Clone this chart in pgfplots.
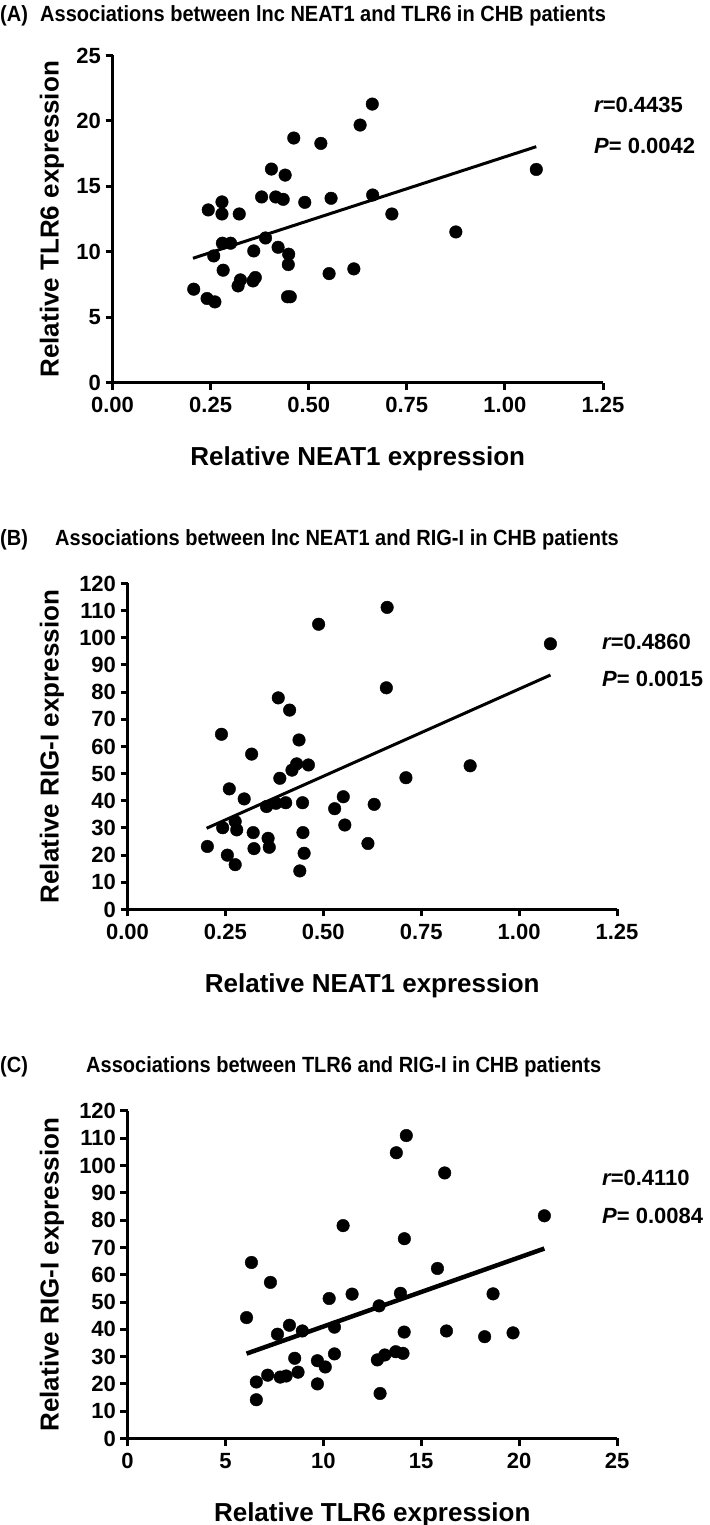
\documentclass[border=0pt]{standalone}
\usepackage{fontspec}
\setmainfont{Liberation Sans}
\usepackage{graphicx}
\usepackage{pgfplots}
\pgfplotsset{compat=1.18}
\newcommand\tickfont{\bfseries\fontsize{22}{22}\selectfont}
\newcommand\labfont{\bfseries\fontsize{26}{26}\selectfont}
\newcommand\titfont{\bfseries\fontsize{22}{22}\selectfont}
\newcommand\annfont{\bfseries\fontsize{22}{22}\selectfont}
\newcommand\tit[1]{\scalebox{0.91}[1]{#1}}
\pgfplotsset{
  gp/.style={
    scale only axis, anchor=south west, clip=false,
    axis lines=left, axis line style={-, line width=3pt},
    tick style={line width=3pt, black},
    major tick length=7pt, tick align=outside,
    ticklabel style={font=\tickfont},
    xticklabel style={yshift=-4pt},
    yticklabel style={xshift=-1pt},
  }
}
\begin{document}
\begin{tikzpicture}[x=1pt,y=1pt]
\path[use as bounding box, fill=white] (0,0) rectangle (709,1525);
% titles
\node[anchor=base west, inner sep=0pt, font=\titfont] at (0,1503) {\tit{(A)}};
\node[anchor=base west, inner sep=0pt, font=\titfont] at (40,1503) {\tit{Associations between lnc NEAT1 and TLR6 in CHB patients}};
\node[anchor=base west, inner sep=0pt, font=\titfont] at (0,979) {\tit{(B)}};
\node[anchor=base west, inner sep=0pt, font=\titfont] at (55,979) {\tit{Associations between lnc NEAT1 and RIG-I in CHB patients}};
\node[anchor=base west, inner sep=0pt, font=\titfont] at (0,452.3) {\tit{(C)}};
\node[anchor=base west, inner sep=0pt, font=\titfont] at (86,452.3) {\tit{Associations between TLR6 and RIG-I in CHB patients}};
% annotations
\node[anchor=west, inner sep=0pt, font=\annfont] at (594,1420) {\itshape r\upshape=0.4435};
\node[anchor=west, inner sep=0pt, font=\annfont] at (594,1379) {\itshape P\upshape= 0.0042};
\node[anchor=west, inner sep=0pt, font=\annfont] at (602,883) {\itshape r\upshape=0.4860};
\node[anchor=west, inner sep=0pt, font=\annfont] at (602,846) {\itshape P\upshape= 0.0015};
\node[anchor=west, inner sep=0pt, font=\annfont] at (602,347) {\itshape r\upshape=0.4110};
\node[anchor=west, inner sep=0pt, font=\annfont] at (602,309) {\itshape P\upshape= 0.0084};

% Panel A
\begin{axis}[gp, at={(112.5pt,1142pt)}, width=490.5pt, height=327.5pt,
  xmin=0, xmax=1.25, ymin=0, ymax=25,
  xtick={0,0.25,0.5,0.75,1,1.25}, xticklabels={0.00,0.25,0.50,0.75,1.00,1.25},
  ytick={0,5,10,15,20,25}, yticklabels={0,5,10,15,20,25}]
\addplot[only marks, mark=*, mark size=6.3pt, black] table {
0.207 7.16
0.241 6.45
0.244 13.21
0.258 9.70
0.261 6.19
0.279 13.82
0.279 12.90
0.280 10.67
0.282 8.61
0.301 10.67
0.320 7.41
0.323 12.90
0.326 7.87
0.358 7.79
0.360 10.08
0.364 8.05
0.380 14.20
0.390 11.07
0.405 16.33
0.416 14.20
0.422 10.36
0.435 14.02
0.440 15.87
0.446 6.58
0.448 9.04
0.449 9.83
0.453 6.58
0.462 18.70
0.490 13.79
0.531 18.29
0.552 8.35
0.557 14.10
0.615 8.71
0.631 19.69
0.662 21.29
0.663 14.35
0.712 12.90
0.875 11.53
1.080 16.30
};
\addplot[black, line width=3pt] coordinates {(0.205,9.52) (1.080,18.04)};
\node[font=\labfont] at ([yshift=-76pt]rel axis cs:0.5,0) {Relative NEAT1 expression};
\node[font=\labfont, rotate=90] at ([xshift=-60.5pt]rel axis cs:0,0.5) {Relative TLR6 expression};
\end{axis}

% Panel B
\begin{axis}[gp, at={(127.5pt,615.5pt)}, width=489.5pt, height=326pt,
  xmin=0, xmax=1.25, ymin=0, ymax=120,
  xtick={0,0.25,0.5,0.75,1,1.25}, xticklabels={0.00,0.25,0.50,0.75,1.00,1.25},
  ytick={0,10,...,120}, yticklabels={0,10,20,30,40,50,60,70,80,90,100,110,120}]
\addplot[only marks, mark=*, mark size=6.3pt, black] table {
0.204 23.2
0.240 64.5
0.243 30.1
0.255 20.0
0.260 44.4
0.275 32.4
0.275 16.5
0.279 29.3
0.298 40.7
0.317 57.2
0.321 28.3
0.323 22.4
0.355 37.9
0.359 26.2
0.362 22.9
0.379 39.1
0.385 77.9
0.389 48.3
0.404 39.3
0.414 73.4
0.420 51.3
0.432 53.6
0.438 62.4
0.440 14.2
0.447 39.3
0.448 28.3
0.451 20.7
0.462 53.2
0.488 105.0
0.529 37.1
0.551 41.5
0.555 31.1
0.614 24.3
0.630 38.7
0.661 81.6
0.663 111.2
0.711 48.5
0.875 52.9
1.080 97.8
};
\addplot[black, line width=3pt] coordinates {(0.202,29.9) (1.080,86.3)};
\node[font=\labfont] at ([yshift=-76pt]rel axis cs:0.5,0) {Relative NEAT1 expression};
\node[font=\labfont, rotate=90] at ([xshift=-75.5pt]rel axis cs:0,0.5) {Relative RIG-I expression};
\end{axis}

% Panel C
\begin{axis}[gp, at={(127.5pt,86.5pt)}, width=489.5pt, height=327.5pt,
  xmin=0, xmax=25, ymin=0, ymax=120,
  xtick={0,5,10,15,20,25}, xticklabels={0,5,10,15,20,25},
  ytick={0,10,...,120}, yticklabels={0,10,20,30,40,50,60,70,80,90,100,110,120}]
\addplot[only marks, mark=*, mark size=6.3pt, black] table {
7.16 23.2
6.33 64.5
13.14 30.6
9.70 20.0
6.08 44.3
13.70 31.8
12.90 16.5
10.57 31.0
8.54 29.4
10.57 40.8
7.30 57.2
12.76 28.8
7.80 22.5
7.66 38.2
10.10 26.2
8.10 22.9
14.13 39.0
11.01 78.0
16.29 39.4
14.14 73.2
10.30 51.3
13.94 53.2
15.83 62.3
6.58 14.2
8.93 39.4
9.70 28.5
6.58 20.7
18.67 53.0
13.73 104.7
18.24 37.3
8.27 41.5
14.07 31.2
8.71 24.3
19.69 38.7
21.29 81.6
14.24 111.0
12.85 48.6
11.47 52.9
16.20 97.3
};
\addplot[black, line width=4.5pt] coordinates {(6.08,31.1) (21.29,69.6)};
\node[font=\labfont] at ([yshift=-76pt]rel axis cs:0.5,0) {Relative TLR6 expression};
\node[font=\labfont, rotate=90] at ([xshift=-75.5pt]rel axis cs:0,0.5) {Relative RIG-I expression};
\end{axis}
\end{tikzpicture}
\end{document}
